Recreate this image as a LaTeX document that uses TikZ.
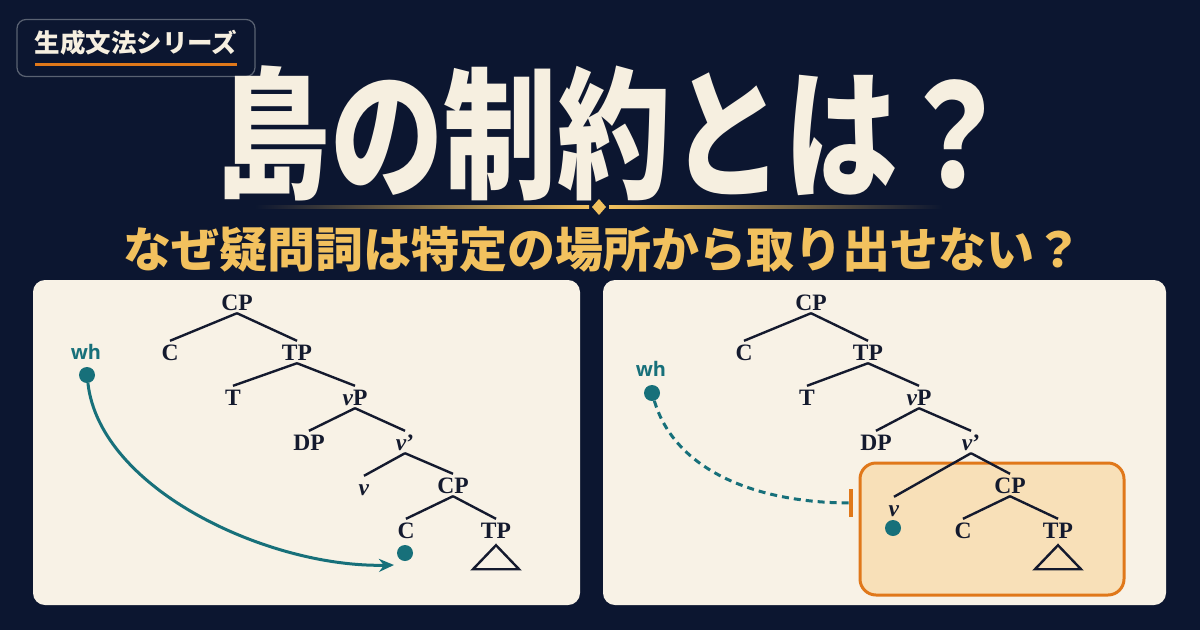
\documentclass[tikz,border=0pt]{standalone}
\usepackage{fontspec}
\usepackage{graphicx}
\newfontfamily\cjk{Noto Sans CJK JP}
\newfontfamily\tserif{Liberation Serif}
\newfontfamily\whfont{Open Sans}
\usetikzlibrary{arrows.meta}
\definecolor{bg}{HTML}{0C1630}
\definecolor{panel}{HTML}{F8F2E6}
\definecolor{ink}{HTML}{141A2E}
\definecolor{tealc}{HTML}{17707A}
\definecolor{orangec}{HTML}{E0781A}
\definecolor{peach}{HTML}{F8E0B8}
\definecolor{gold}{HTML}{F2C15E}
\definecolor{cream}{HTML}{F6EFE0}
\definecolor{badgeline}{HTML}{5A6272}
\begin{document}
\begin{tikzpicture}[x=1pt,y=-1pt,
  lbl/.style={font=\tserif\bfseries\fontsize{23.5}{23.5}\selectfont, text=ink, inner sep=3pt, text height=16pt, text depth=0pt},
  edge/.style={draw=ink, line width=2.4pt},
  dot/.style={circle, fill=tealc, inner sep=0pt, minimum size=16pt},
  whl/.style={font=\whfont\bfseries\fontsize{20}{20}\selectfont, text=tealc},
  tri/.style={draw=ink, line width=2.4pt, line join=miter}]
\fill[bg] (0,0) rectangle (1200,630);
\useasboundingbox (0,0) rectangle (1200,630);
% badge
\node[draw=badgeline, line width=1.2pt, rounded corners=9pt, minimum width=238pt, minimum height=57pt, fill=bg] (badge) at (136,48) {};
\node[font=\cjk\bfseries\fontsize{25.5}{25.5}\selectfont, text=cream] (badgetxt) at (136,43) {生成文法シリーズ};
\draw[orangec, line width=3pt] (35,64) -- (237,64);
% title
\node[text=cream] (title) at (614,133) {\scalebox{0.8}[1]{\cjk\bfseries\fontsize{142}{142}\selectfont 島の制約とは？}};
% divider
\shade[left color=bg, right color=gold] (255,205.8) rectangle (589,208.6);
\shade[left color=gold, right color=bg] (609,205.8) rectangle (942,208.6);
\fill[gold] (599,199) -- (606,207) -- (599,215) -- (592,207) -- cycle;
% subtitle
\node[text=gold, font=\cjk\bfseries\fontsize{48}{48}\selectfont] (sub) at (603,249) {なぜ疑問詞は特定の場所から取り出せない？};
% panels
\fill[panel, rounded corners=12pt] (33,280) rectangle (580,605);
\fill[panel, rounded corners=12pt] (603,280) rectangle (1166,605);

% ---------- left tree ----------
\node[lbl] (l-cp) at (237,302) {CP};
\node[lbl] (l-c) at (170,352) {C};
\node[lbl] (l-tp) at (297,352) {TP};
\node[lbl] (l-t) at (233,397) {T};
\node[lbl] (l-vp) at (355,397) {\textit{v}P};
\node[lbl] (l-dp) at (309,442) {DP};
\node[lbl] (l-vb) at (405,442) {\textit{v}’};
\node[lbl] (l-v) at (364,487) {\textit{v}};
\node[lbl] (l-cp2) at (453,485) {CP};
\node[lbl] (l-c2) at (406,530) {C};
\node[lbl] (l-tp2) at (496,530) {TP};
\foreach \p/\c in {l-cp/l-c, l-cp/l-tp, l-tp/l-t, l-tp/l-vp, l-vp/l-dp, l-vp/l-vb, l-vb/l-v, l-vb/l-cp2, l-cp2/l-c2, l-cp2/l-tp2}
  \draw[edge] (\p.south) -- (\c.north);
\draw[tri] ([yshift=-4pt]l-tp2.south) -- ++(-23,24) -- ++(46,0) -- cycle;
\node[whl] (l-wh) at (86,352) {wh};
\node[dot] (l-wd) at (87,375) {};
\node[dot] (l-gap) at (405,553) {};
\coordinate (l-end) at (394,565);
\draw[tealc, line width=3pt, -{Stealth[length=15pt,width=13pt]}] (l-wd) .. controls (100,490) and (270,568) .. (l-end);

% ---------- right tree ----------
\draw[orangec, line width=3pt, fill=peach, rounded corners=16pt] (860,463) rectangle (1124,595);
\node[lbl] (r-cp) at (811,302) {CP};
\node[lbl] (r-c) at (744,352) {C};
\node[lbl] (r-tp) at (868,352) {TP};
\node[lbl] (r-t) at (807,397) {T};
\node[lbl] (r-vp) at (919,397) {\textit{v}P};
\node[lbl] (r-dp) at (876,442) {DP};
\node[lbl] (r-vb) at (971,442) {\textit{v}’};
\node[lbl] (r-v) at (894,508) {\textit{v}};
\node[lbl] (r-cp2) at (1010,485) {CP};
\node[lbl] (r-c2) at (963,530) {C};
\node[lbl] (r-tp2) at (1058,530) {TP};
\foreach \p/\c in {r-cp/r-c, r-cp/r-tp, r-tp/r-t, r-tp/r-vp, r-vp/r-dp, r-vp/r-vb, r-vb/r-v, r-vb/r-cp2, r-cp2/r-c2, r-cp2/r-tp2}
  \draw[edge] (\p.south) -- (\c.north);
\draw[tri] ([yshift=-4pt]r-tp2.south) -- ++(-23,24) -- ++(46,0) -- cycle;
\node[dot] (r-gap) at (893,528) {};
\node[whl] (r-wh) at (651,369) {wh};
\node[dot] (r-wd) at (652,393) {};
\coordinate (r-bar) at (851,503);
\draw[tealc, line width=3pt, dash pattern=on 7pt off 5pt] (r-wd) .. controls (675,470) and (755,503) .. (r-bar);
\draw[orangec, line width=4.5pt] ([yshift=-14pt]r-bar) -- ([yshift=14pt]r-bar);
\end{tikzpicture}
\end{document}
